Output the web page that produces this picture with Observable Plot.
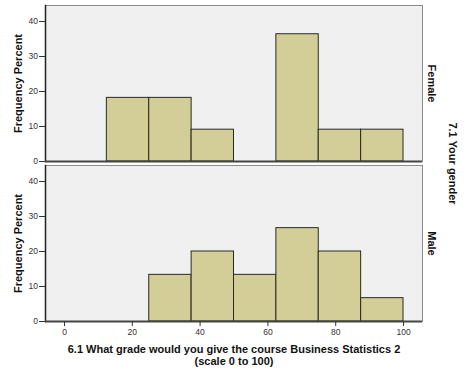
<!DOCTYPE html>
<html><head><meta charset="utf-8">
<script src="https://cdn.jsdelivr.net/npm/d3@7"></script>
<script src="https://cdn.jsdelivr.net/npm/@observablehq/plot@0.6"></script>
<style>body{margin:0;background:#fff;} #chart{width:472px;height:378px;}</style>
</head><body><div id="chart"></div>
<script>
const genders = ["Female", "Male"];
const binLower = [12.5, 25, 37.5, 50, 62.5, 75, 87.5];
const binUpper = [25, 37.5, 50, 62.5, 75, 87.5, 100];
const femalePercent = [18.18, 18.18, 9.09, 0, 36.36, 9.09, 9.09];
const malePercent = [0, 13.33, 20, 13.33, 26.67, 20, 6.67];
const xTicks = [0, 20, 40, 60, 80, 100];
const yTicks = [0, 10, 20, 30, 40];
const xTitle = "6.1 What grade would you give the course Business Statistics 2\n(scale 0 to 100)";
const yTitle = "Frequency Percent";
const facetTitle = "7.1 Your gender";

const rows = [];
genders.forEach((g, gi) => {
  const vals = gi === 0 ? femalePercent : malePercent;
  binLower.forEach((lo, i) => {
    if (vals[i] > 0) rows.push({gender: g, lo, hi: binUpper[i], pct: vals[i]});
  });
});

const font = "'Liberation Sans', Arial, sans-serif";
const plot = Plot.plot({
  width: 472, height: 378,
  marginLeft: 45, marginRight: 50, marginTop: 5, marginBottom: 56.5,
  style: {fontFamily: font, background: "#fff", fontSize: "8px"},
  x: {domain: [-5.6, 105.6]},
  y: {domain: [0, 44.57]},
  fy: {domain: genders, paddingInner: 0.028, paddingOuter: 0},
  marks: [
    Plot.frame({fill: "#f0f0f0"}),
    Plot.rectY(rows, {x1: "lo", x2: "hi", y: "pct", fy: "gender", fill: "#d3ce97", stroke: "#2b2a1c", strokeWidth: 1}),
    Plot.frame({stroke: "#8c8c8c"}),
    Plot.frame({anchor: "left", stroke: "#222", strokeWidth: 1.5}),
    Plot.ruleY([0], {stroke: "#444", strokeWidth: 1.8}),
    Plot.axisY({ticks: yTicks, tickSize: 6, tickPadding: 1.5, fontSize: 8.5, label: null, color: "#333"}),
    Plot.axisX({ticks: xTicks, tickSize: 5, tickPadding: 2, fontSize: 8.5, label: null, color: "#333"}),
    Plot.axisFy({anchor: "right", tickRotate: 90, tickSize: 0, tickPadding: 13, fontSize: 11, fontWeight: "bold", label: null, color: "#111"}),
    Plot.text(genders.map(g => ({gender: g})), {fy: "gender", text: () => yTitle, frameAnchor: "left", rotate: -90, dx: -27, fontSize: 11, fontWeight: "bold", textAnchor: "middle", lineAnchor: "middle", fill: "#111"}),
    Plot.text([{gender: "Male"}], {fy: "gender", text: () => xTitle, frameAnchor: "bottom", dy: 22.7, fontSize: 11, fontWeight: "bold", textAnchor: "middle", lineAnchor: "top", lineHeight: 1.09, fill: "#111"}),
    Plot.text([{gender: "Female"}], {fy: "gender", text: () => facetTitle, frameAnchor: "bottom-right", dx: 30, dy: 2, rotate: 90, fontSize: 11, fontWeight: "bold", textAnchor: "middle", lineAnchor: "middle", fill: "#111"})
  ]
});
document.getElementById("chart").appendChild(plot);
</script>
</body></html>
